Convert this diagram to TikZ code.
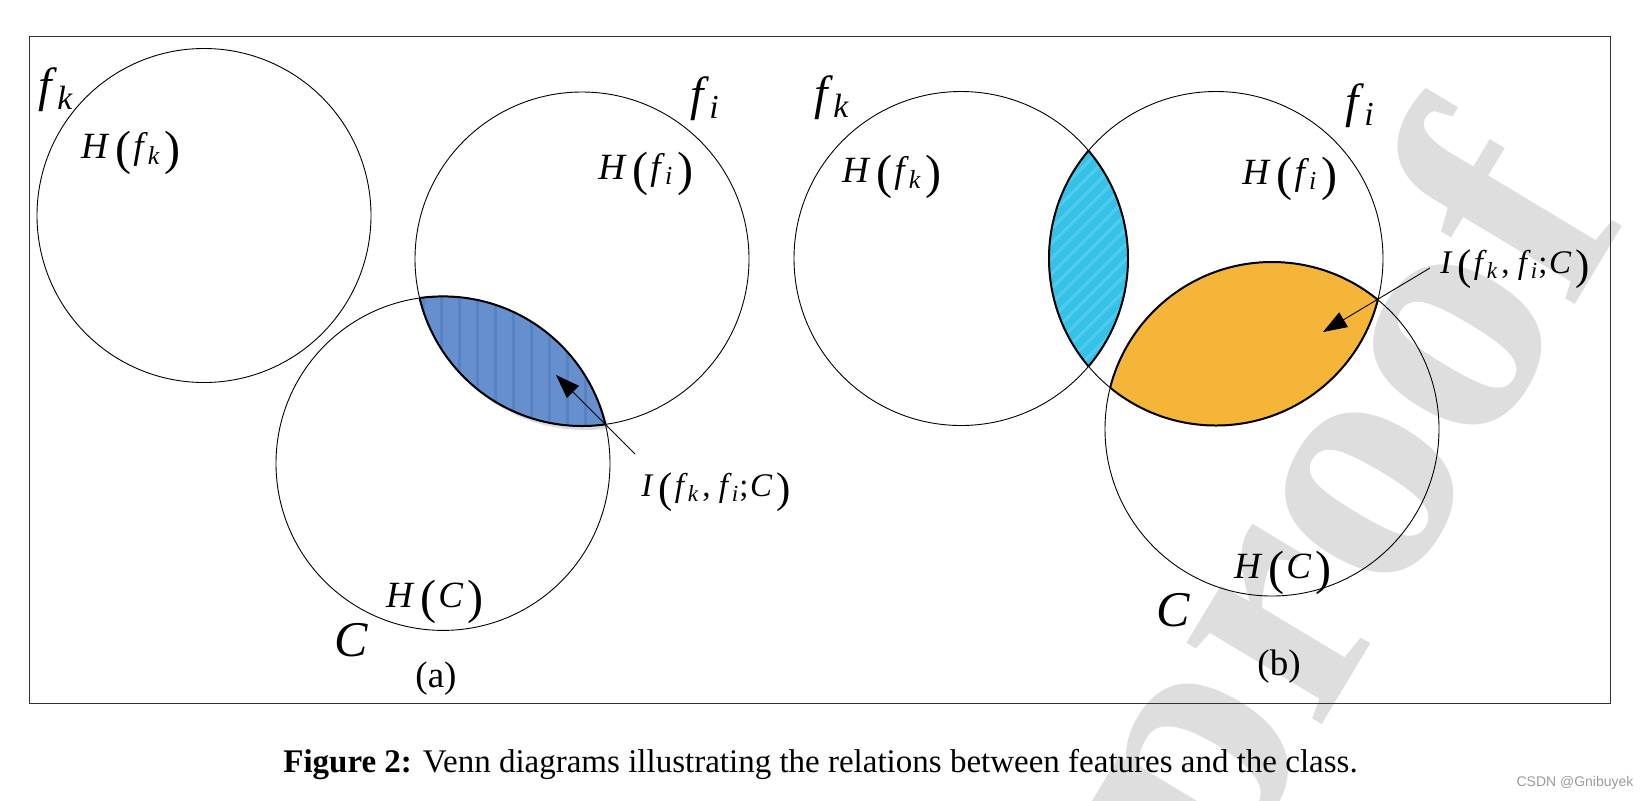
\documentclass[tikz,border=0pt]{standalone}
\usepackage{fontspec}
\setmainfont{Liberation Serif}
\newfontfamily\csdnfont{Liberation Sans}
\usetikzlibrary{arrows.meta}
\definecolor{lensblue}{HTML}{6590CD}
\definecolor{lensbluestripe}{HTML}{5783C5}
\definecolor{lenscyan}{HTML}{36C2E8}
\definecolor{lenscyanstripe}{HTML}{4FCBEE}
\definecolor{lensorange}{HTML}{F4B538}
\definecolor{wmgray}{HTML}{DEDEDE}
\definecolor{framegray}{HTML}{333333}
\definecolor{csdngray}{HTML}{9A9A9A}
\newcommand{\LP}{\kern0.16em\raisebox{-0.17em}{\scalebox{1.3}{(}}\kern0.05em}
\newcommand{\RP}{\kern0.12em\raisebox{-0.17em}{\scalebox{1.3}{)}}}
\newcommand{\sbs}[1]{\textsubscript{\itshape #1}}
\begin{document}
\begin{tikzpicture}[x=0.5pt,y=-0.5pt,
  circ/.style={line width=0.45pt},
  lensborder/.style={line width=1pt},
  hlbl/.style={inner sep=0pt, font=\fontsize{18.5pt}{20pt}\selectfont},
  biglbl/.style={inner sep=0pt, font=\fontsize{24pt}{26pt}\selectfont},
  ilbl/.style={inner sep=0pt, font=\fontsize{16.5pt}{18pt}\selectfont},
  panellbl/.style={inner sep=0pt, font=\fontsize{18.5pt}{20pt}\selectfont},
  pointer/.style={line width=0.45pt, -{Triangle[length=12pt,width=8.5pt]}},
]
\useasboundingbox (0,0) rectangle (1644,800);
\def\R{83.5pt}
% circle centres
\coordinate (aK) at (204,215.5);
\coordinate (aI) at (582,259);
\coordinate (aC) at (443,463.4);
\coordinate (bK) at (961,258.5);
\coordinate (bI) at (1216,258.5);
\coordinate (bC) at (1272,429);

% watermark
\begin{scope}
  \clip (0,0) rectangle (1644,800);
  \node[text=wmgray, rotate=59, inner sep=0pt,
        font=\fontsize{172pt}{172pt}\selectfont\bfseries] (wm) at (1352,512) {proof};
\end{scope}

% (a) lens shadow
\begin{scope}
  \clip ([shift={(3,4)}]aI) circle[radius=\R];
  \fill[black!14] ([shift={(3,4)}]aC) circle[radius=\R];
\end{scope}
% (a) lens fill
\begin{scope}
  \clip (aI) circle[radius=\R];
  \clip (aC) circle[radius=\R];
  \fill[lensblue] (380,250) rectangle (640,450);
  \foreach \x in {405,423,...,620} \draw[lensbluestripe, line width=1.5pt] (\x,250) -- (\x,450);
\end{scope}
% (b) cyan lens
\begin{scope}
  \clip (bK) circle[radius=\R];
  \clip (bI) circle[radius=\R];
  \fill[lenscyan] (980,120) rectangle (1200,400);
  \foreach \t in {800,815,...,1200} \draw[lenscyanstripe, line width=1.6pt] (\t,420) -- (\t+320,100);
\end{scope}
% (b) orange lens
\begin{scope}
  \clip (bI) circle[radius=\R];
  \fill[lensorange] (bC) circle[radius=\R];
\end{scope}

% circles
\foreach \c in {aK,aI,aC,bK,bI,bC} \draw[circ] (\c) circle[radius=\R];

% lens borders
\begin{scope}\clip (aI) circle[radius=\R]; \draw[lensborder] (aC) circle[radius=\R];\end{scope}
\begin{scope}\clip (aC) circle[radius=\R]; \draw[lensborder] (aI) circle[radius=\R];\end{scope}
\begin{scope}\clip (bK) circle[radius=\R]; \draw[lensborder] (bI) circle[radius=\R];\end{scope}
\begin{scope}\clip (bI) circle[radius=\R]; \draw[lensborder] (bK) circle[radius=\R];\end{scope}
\begin{scope}\clip (bI) circle[radius=\R]; \draw[lensborder] (bC) circle[radius=\R];\end{scope}
\begin{scope}\clip (bC) circle[radius=\R]; \draw[lensborder] (bI) circle[radius=\R];\end{scope}

% frame
\draw[framegray, line width=0.6pt] (29.4,36.7) rectangle (1610.5,703.5);

% labels (a)
\node[biglbl] (aKname) at (56,90) {\textit{f}\sbs{k}};
\node[hlbl] (aKH) at (131,153) {\textit{H}\LP\textit{f}\sbs{k}\RP};
\node[biglbl] (aIname) at (705,99) {\textit{f}\sbs{i}};
\node[hlbl] (aIH) at (646,174) {\textit{H}\LP\textit{f}\sbs{i}\RP};
\node[hlbl] (aCH) at (435,602) {\textit{H}\LP\textit{C}\RP};
\node[biglbl, font=\fontsize{25pt}{27pt}\selectfont] (aCname) at (351,640) {\textit{C}};
\node[panellbl] (aPanel) at (436,679) {(a)};
\node[ilbl] (aMI) at (716,492) {\textit{I}\LP\textit{f}\sbs{k}\kern0.1em, \textit{f}\sbs{i};\kern0.05em\textit{C}\RP};
\coordinate (aArrS) at (635,454);
\coordinate (aArrE) at (556,375);
\draw[pointer] (aArrS) -- (aArrE);

% labels (b)
\node[biglbl] (bKname) at (832,98) {\textit{f}\sbs{k}};
\node[hlbl] (bKH) at (892,177) {\textit{H}\LP\textit{f}\sbs{k}\RP};
\node[biglbl] (bIname) at (1360,106) {\textit{f}\sbs{i}};
\node[hlbl] (bIH) at (1290,179) {\textit{H}\LP\textit{f}\sbs{i}\RP};
\node[ilbl] (bMI) at (1515,269) {\textit{I}\LP\textit{f}\sbs{k}\kern0.1em, \textit{f}\sbs{i};\kern0.05em\textit{C}\RP};
\node[hlbl] (bCH) at (1283,573) {\textit{H}\LP\textit{C}\RP};
\node[biglbl, font=\fontsize{25pt}{27pt}\selectfont] (bCname) at (1173,610) {\textit{C}};
\node[panellbl] (bPanel) at (1279,667) {(b)};
\coordinate (bArrS) at (1430,268);
\coordinate (bArrE) at (1323,332);
\draw[pointer] (bArrS) -- (bArrE);

% caption
\node[inner sep=0pt, font=\fontsize{16.5pt}{18pt}\selectfont] (caption) at (820.5,765)
  {\textbf{Figure 2:} Venn diagrams illustrating the relations between features and the class.};
\node[inner sep=0pt, text=csdngray, font=\csdnfont\fontsize{7pt}{8pt}\selectfont] (csdn) at (1575,783) {CSDN @Gnibuyek};
\end{tikzpicture}
\end{document}
